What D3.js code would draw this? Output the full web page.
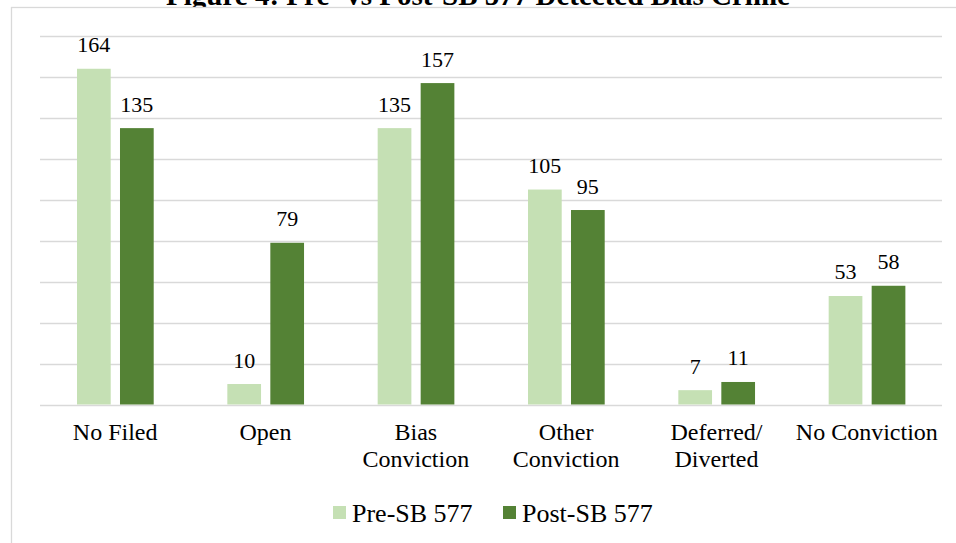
<!DOCTYPE html>
<html><head><meta charset="utf-8">
<script src="https://cdn.jsdelivr.net/npm/d3@7"></script>
<style>html,body{margin:0;padding:0;background:#fff;overflow:hidden}
svg text{font-family:"Liberation Serif","Tinos","Times New Roman",Times,"DejaVu Serif",serif;}</style>
</head><body>
<script>
const title = "Figure 4: Pre- vs Post-SB 577 Detected Bias Crime";
const categories = [["No Filed"],["Open"],["Bias","Conviction"],["Other","Conviction"],["Deferred/","Diverted"],["No Conviction"]];
const seriesNames = ["Pre-SB 577","Post-SB 577"];
const preValues = [164,10,135,105,7,53];
const postValues = [135,79,157,95,11,58];
const yTicks = [0,20,40,60,80,100,120,140,160,180];
const colors = ["#C5E0B4","#548235"];

const W=956,H=543;
const svg=d3.select("body").append("svg").attr("width",W).attr("height",H);

// title (cut off at top, as in the reference), partly covered by the chart frame
svg.append("text").attr("x",478).attr("y",5).attr("text-anchor","middle")
  .attr("font-weight","bold").attr("font-size",29).attr("fill","#000").text(title);

// frame
svg.append("rect").attr("x",11.5).attr("y",7.5).attr("width",W+20).attr("height",H+20)
  .attr("fill","#fff").attr("stroke","#D9D9D9").attr("stroke-width",1.3);

const x0=d3.scaleBand().domain(d3.range(categories.length)).range([40,942]);
const y=d3.scaleLinear().domain([0,180]).range([404.5,36]);

svg.append("g").selectAll("line").data(yTicks).join("line")
  .attr("x1",40).attr("x2",942).attr("y1",d=>Math.round(y(d))+0.5).attr("y2",d=>Math.round(y(d))+0.5)
  .attr("stroke","#D9D9D9").attr("stroke-width",1.3);

const x1=d3.scaleBand().domain([0,1]).range([37,113.7]).paddingInner(0.216);
const series=[preValues,postValues];
series.forEach((vals,s)=>{
  const g=svg.append("g");
  g.selectAll("rect").data(vals).join("rect")
    .attr("x",(d,i)=>x0(i)+x1(s)).attr("width",x1.bandwidth())
    .attr("y",d=>y(d)).attr("height",d=>y(0)-y(d)).attr("fill",colors[s]);
  g.selectAll("text").data(vals).join("text")
    .attr("x",(d,i)=>x0(i)+x1(s)+x1.bandwidth()/2).attr("y",d=>y(d)-16.5)
    .attr("text-anchor","middle").attr("font-size",22).attr("fill","#000").text(d=>d);
});

// category labels
const cl=svg.append("g");
categories.forEach((lines,i)=>{
  const t=cl.append("text").attr("text-anchor","middle").attr("font-size",24).attr("fill","#000");
  lines.forEach((ln,j)=>t.append("tspan").attr("x",x0(i)+x0.bandwidth()/2).attr("y",440+27*j).text(ln));
});

// legend
const legX=[333,503];
seriesNames.forEach((n,s)=>{
  svg.append("rect").attr("x",legX[s]).attr("y",506).attr("width",13).attr("height",13).attr("fill",colors[s]);
  svg.append("text").attr("x",legX[s]+19).attr("y",521.5).attr("font-size",26).attr("fill","#000").text(n);
});
</script>
</body></html>
